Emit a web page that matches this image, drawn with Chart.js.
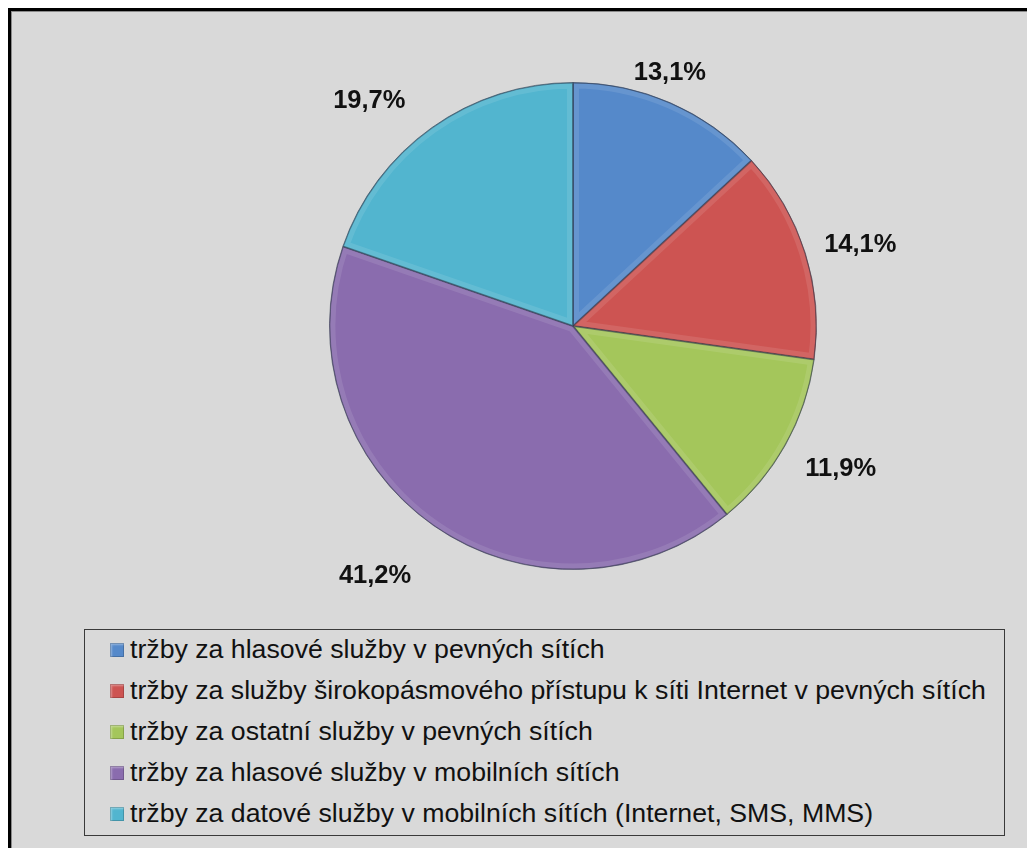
<!DOCTYPE html>
<html>
<head>
<meta charset="utf-8">
<script src="https://cdn.jsdelivr.net/npm/chart.js@4.4.0/dist/chart.umd.min.js"></script>
<style>
  body { margin: 0; background: #fff; font-family: "Liberation Sans", Arial, sans-serif; }
  #wrap { position: relative; width: 1027px; height: 848px; overflow: hidden; }
  #frame { position: absolute; left: 8px; top: 8px; width: 1040px; height: 860px;
    border-left: 3px solid #000; border-top: 3px solid #000; background: #d9d9d9;
    box-shadow: inset 1px 1px 0 #8a8a8a; }
  #myChart { position: absolute; left: 0; top: 0; }
  #legend { position: absolute; left: 84px; top: 629px; width: 921px; height: 207px;
    border: 1px solid #3a3a3a; box-sizing: border-box; }
  .row { position: absolute; left: 0; height: 41px; line-height: 41px; font-size: 26.7px; color: #111; white-space: nowrap; }
  .mark { position: absolute; left: 25px; top: 14px; width: 14px; height: 14px;
    box-shadow: inset 0 0 0 1px rgba(0,0,0,0.18), inset 2px 2px 2px rgba(255,255,255,0.35); }
  .row span.t { position: absolute; left: 45px; }
</style>
</head>
<body>
<div id="wrap">
  <div id="frame"></div>
  <canvas id="myChart" width="1027" height="620"></canvas>
  <div id="legend"></div>
</div>
<script>
'use strict';
// data
let categories = [
  'tržby za hlasové služby v pevných sítích',
  'tržby za služby širokopásmového přístupu k síti Internet v pevných sítích',
  'tržby za ostatní služby v pevných sítích',
  'tržby za hlasové služby v mobilních sítích',
  'tržby za datové služby v mobilních sítích (Internet, SMS, MMS)'
];
let shares = [13.1, 14.1, 11.9, 41.2, 19.7];
let valueLabels = ['13,1%', '14,1%', '11,9%', '41,2%', '19,7%'];
let colors = ['#5589CA', '#CD5452', '#A4C65B', '#8A6CAE', '#52B5CF'];

// legend built as html, one row per category
let legendEl = document.getElementById('legend');
for (let i = 0; i < categories.length; i++) {
  let row = document.createElement('div');
  row.className = 'row';
  row.style.top = (-1 + i * 41) + 'px';
  let mark = document.createElement('div');
  mark.className = 'mark';
  mark.style.background = colors[i];
  let txt = document.createElement('span');
  txt.className = 't';
  txt.textContent = categories[i];
  row.appendChild(mark);
  row.appendChild(txt);
  legendEl.appendChild(row);
}

// label placement like excel's best fit: small turn (deg) and gap beyond the edge (px)
let labelTurn = [-2.6, 1.7, -1.2, 3.5, -6.7];
let labelGap = [27, 55, 60, 75, 60];

// soft bevel on the slices + percent labels outside
let sliceExtras = {
  id: 'sliceExtras',
  afterDatasetsDraw(chart) {
    let ctx = chart.ctx;
    let meta = chart.getDatasetMeta(0);
    meta.data.forEach(function (arc) {
      ctx.save();
      ctx.beginPath();
      ctx.moveTo(arc.x, arc.y);
      ctx.arc(arc.x, arc.y, arc.outerRadius, arc.startAngle, arc.endAngle);
      ctx.closePath();
      ctx.clip();
      ctx.lineJoin = 'round';
      ctx.lineWidth = 12;
      ctx.strokeStyle = 'rgba(255,255,255,0.10)';
      ctx.stroke();
      ctx.lineWidth = 2;
      ctx.strokeStyle = 'rgba(20,30,50,0.35)';
      ctx.stroke();
      ctx.restore();
    });
    ctx.save();
    ctx.font = 'bold 25.5px "Liberation Sans", Arial, sans-serif';
    ctx.fillStyle = '#111';
    ctx.textAlign = 'center';
    ctx.textBaseline = 'middle';
    meta.data.forEach(function (arc, i) {
      let mid = (arc.startAngle + arc.endAngle) / 2 + labelTurn[i] * Math.PI / 180;
      let r = arc.outerRadius + labelGap[i];
      ctx.fillText(valueLabels[i], arc.x + Math.cos(mid) * r, arc.y + Math.sin(mid) * r);
    });
    ctx.restore();
  }
};

let ctx = document.getElementById('myChart').getContext('2d');
new Chart(ctx, {
  type: 'pie',
  data: {
    labels: categories,
    datasets: [{
      data: shares,
      backgroundColor: colors,
      borderColor: 'rgba(40,50,70,0.55)',
      borderWidth: 1
    }]
  },
  options: {
    responsive: false,
    animation: false,
    layout: { padding: { left: 119, top: 82, bottom: 50, right: 0 } },
    plugins: {
      legend: { display: false },
      tooltip: { enabled: false }
    }
  },
  plugins: [sliceExtras]
});
</script>
</body>
</html>
